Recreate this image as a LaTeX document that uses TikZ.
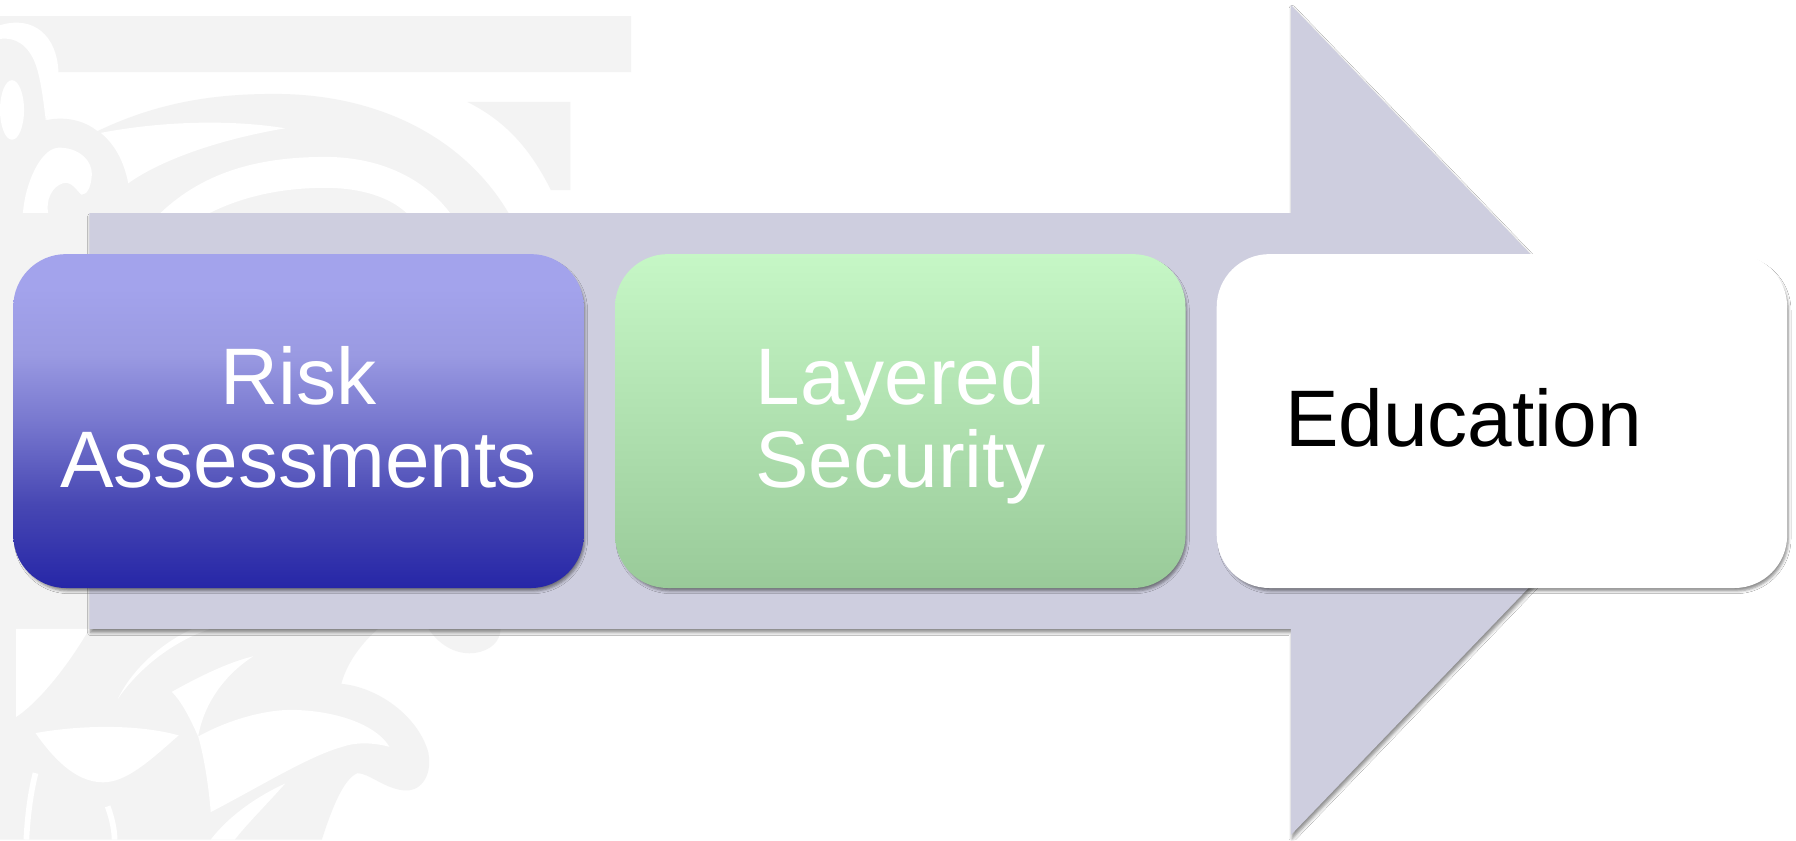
\documentclass[tikz,border=0pt]{standalone}
\usepackage{fontspec}
\setmainfont{Liberation Sans}
\usetikzlibrary{shadows.blur}
\definecolor{arrowc}{RGB}{206,206,223}
\definecolor{orn}{RGB}{243,243,243}
\definecolor{rbA}{RGB}{38,38,167}
\definecolor{rbB}{RGB}{71,71,179}
\definecolor{rbC}{RGB}{120,120,207}
\definecolor{rbD}{RGB}{154,154,226}
\definecolor{rbE}{RGB}{163,163,236}
\definecolor{lgtop}{RGB}{198,247,198}
\definecolor{lgbot}{RGB}{153,202,153}
\pgfdeclareverticalshading{riskshade}{100bp}{color(0bp)=(rbA); color(25bp)=(rbA); color(37.5bp)=(rbB); color(50bp)=(rbC); color(60bp)=(rbD); color(70bp)=(rbE); color(100bp)=(rbE)}
\tikzset{
  stepbox/.style={rectangle, rounded corners=23pt, minimum width=249pt, minimum height=145.75pt, inner sep=0pt,
    blur shadow={shadow xshift=1pt, shadow yshift=-1.6pt, shadow blur radius=1.2pt, shadow scale=0.996, shadow opacity=45}},
  lbl/.style={font=\fontsize{35}{36.25}\selectfont, align=center, inner sep=0pt},
  ornfill/.style={fill=orn},
  carve/.style={fill=white}
}
\begin{document}
\begin{tikzpicture}[x=0.5pt,y=-0.5pt]
\fill[white] (0,0) rectangle (1568,733.4);
\useasboundingbox (0,0) rectangle (1568,733.4);
% ---- background ornament (top) ----
\fill[ornfill] (0,14) -- (551,14) -- (551,63) -- (50,63) .. controls (48,80) and (44,95) .. (40,105)
  .. controls (62,100) and (88,108) .. (98,132) .. controls (104,150) and (104,170) .. (102,186) -- (0,186) -- cycle;
\fill[carve] (0,22) .. controls (30,13) and (50,32) .. (51,63) .. controls (50,80) and (45,95) .. (40,105)
  .. controls (38,90) and (36,70) .. (31,56) .. controls (25,40) and (14,32) .. (0,34) -- cycle;
\fill[carve] (10.5,96) ellipse [x radius=10.5, y radius=26];
\fill[carve] (20,186) .. controls (22,160) and (35,131) .. (50,129) .. controls (68,128) and (82,140) .. (80,155)
  .. controls (79,164) and (76,170) .. (71,170) .. controls (66,165) and (62,158) .. (55,160)
  .. controls (45,163) and (40,175) .. (42,186) -- cycle;
\fill[ornfill] (84,115) .. controls (140,88) and (190,82) .. (240,82) .. controls (330,82) and (405,120) .. (444,186)
  -- (102,186) .. controls (102,150) and (95,128) .. (84,115) -- cycle;
\fill[carve] (88,116) .. controls (140,106) and (200,104) .. (249,112) .. controls (190,122) and (140,140) .. (112,160)
  .. controls (108,140) and (100,126) .. (88,116) -- cycle;
\fill[carve] (140,186) .. controls (180,148) and (230,137) .. (284,137) .. controls (335,137) and (372,158) .. (393,186)
  -- (355,186) .. controls (340,172) and (315,164) .. (284,164) .. controls (250,164) and (215,170) .. (183,186) -- cycle;
\fill[ornfill] (408,89) -- (498,89) -- (498,166) -- (481,166) .. controls (462,128) and (440,105) .. (408,89) -- cycle;
\fill[ornfill] (0,186) rectangle (78,549);
% ---- background ornament (bottom) ----
\fill[ornfill] (0,549) -- (330,549) .. controls (312,565) and (302,582) .. (298,597)
  .. controls (330,600) and (365,625) .. (374,657) .. controls (378,680) and (365,692) .. (352,690)
  .. controls (335,688) and (322,675) .. (312,675) .. controls (300,680) and (290,705) .. (281,733) -- (0,733) -- cycle;
\fill[ornfill] (374,549) .. controls (385,565) and (400,572) .. (415,570) .. controls (428,568) and (437,560) .. (437,549) -- cycle;
\fill[carve] (14,549) -- (78,549) .. controls (60,580) and (35,612) .. (14,626) -- cycle;
\fill[carve] (103,610) .. controls (120,585) and (150,560) .. (184,549) -- (168,549) .. controls (140,562) and (115,585) .. (103,610) -- cycle;
\fill[carve] (150,604) .. controls (175,590) and (200,578) .. (221,573) .. controls (195,590) and (178,615) .. (173,643)
  .. controls (165,625) and (158,612) .. (150,604) -- cycle;
\fill[carve] (173,643) .. controls (200,628) and (235,618) .. (262,620) .. controls (300,622) and (330,635) .. (340,652)
  .. controls (325,648) and (310,648) .. (299,652) .. controls (270,660) and (230,685) .. (184,709)
  .. controls (182,685) and (178,660) .. (173,643) -- cycle;
\fill[carve] (31,640) .. controls (70,633) and (120,632) .. (156,642) .. controls (130,665) and (110,683) .. (90,683)
  .. controls (65,683) and (45,660) .. (31,640) -- cycle;
\draw[white, line width=2.5pt] (31,675) .. controls (26,695) and (24,715) .. (23,733);
\draw[white, line width=2.5pt] (94,704) .. controls (98,715) and (100,725) .. (100,733);
\fill[carve] (184,733) .. controls (200,712) and (225,695) .. (249,684) .. controls (235,700) and (215,720) .. (205,733) -- cycle;
% ---- big arrow ----
\fill[arrowc, blur shadow={shadow xshift=0.6pt, shadow yshift=-1.6pt, shadow blur radius=1.4pt, shadow opacity=45}]
  (78,186) -- (1127,186) -- (1127,4.4) -- (1475.5,366.7) -- (1127,729) -- (1127,549) -- (78,549) -- cycle;
% ---- step boxes ----
\node[stepbox, shading=riskshade, shade] (r1) at (260.6,367.6) {};
\node[stepbox, top color=lgtop, bottom color=lgbot] (r2) at (786,367.6) {};
\node[stepbox, fill=white] (r3) at (1311.25,367.6) {};
\node[lbl, text=white, yshift=2pt, text depth=0pt] (l1) at (r1.center) {Risk\\Assessments};
\node[lbl, text=white, yshift=2pt, text depth=0pt] (l2) at (r2.center) {Layered\\Security};
\node[lbl, text=black, anchor=base west] (l3) at (1121.5,389.4) {Education};
\end{tikzpicture}
\end{document}
